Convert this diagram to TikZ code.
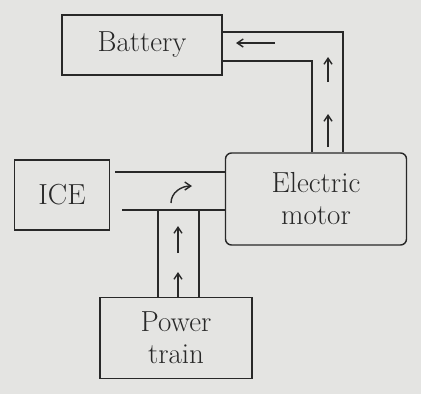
\documentclass[tikz,border=0pt]{standalone}
\usepackage{tikz}
\usetikzlibrary{arrows.meta,positioning}
\definecolor{paper}{RGB}{228,228,226}
\definecolor{ink}{RGB}{40,40,40}
\begin{document}
\begin{tikzpicture}[x=1pt,y=-1pt,>={Straight Barb[length=6pt,width=8pt]},line width=1.4pt,draw=ink,
    font=\fontsize{29}{32}\selectfont,every node/.style={align=center,text=ink},
    blockbox/.style={draw=ink,line width=1.4pt,inner sep=2pt}]
    \fill[paper] (0,0) rectangle (421,394);
    \useasboundingbox (0,0) rectangle (421,394);
    % blocks
    \node[blockbox,minimum width=160pt,minimum height=60pt] (battery) at (142,45) {Battery};
    \node[blockbox,minimum width=95pt,minimum height=70pt] (ice) at (62,195) {ICE};
    \node[blockbox,rounded corners=6pt,minimum width=181pt,minimum height=92pt] (motor) at (316,199) {Electric\\motor};
    \node[blockbox,minimum width=152pt,minimum height=81pt] (train) at (176,338) {Power\\train};
    % motor to battery
    \coordinate (outer) at (343,32);
    \coordinate (inner) at (312,61);
    \draw[ink] (battery.east |- outer) -- (outer) -- (outer |- motor.north);
    \draw[ink] (battery.east |- inner) -- (inner) -- (inner |- motor.north);
    \coordinate (b1) at (275,43);
    \coordinate (b2) at (236,43);
    \draw[ink,->] (b1) -- (b2);
    \coordinate (u1) at (328,82);
    \coordinate (u2) at (328,57);
    \coordinate (u3) at (328,147);
    \coordinate (u4) at (328,114);
    \draw[ink,->] (u1) -- (u2);
    \draw[ink,->] (u3) -- (u4);
    % ice to motor
    \coordinate (top) at (115,172);
    \coordinate (bot) at (122,210);
    \draw[ink] (top) -- (motor.west |- top);
    \draw[ink] (bot) -- (motor.west |- bot);
    \coordinate (h1) at (171,203);
    \coordinate (h2) at (192,186);
    \draw[ink,->] (h1) to[out=90,in=180] (h2);
    % power train to channel
    \coordinate (vl) at (158,210);
    \coordinate (vr) at (199,210);
    \draw[ink] (vl) -- (vl |- train.north);
    \draw[ink] (vr) -- (vr |- train.north);
    \coordinate (p1) at (178,253);
    \coordinate (p2) at (178,226);
    \coordinate (p3) at (178,297);
    \coordinate (p4) at (178,272);
    \draw[ink,->] (p1) -- (p2);
    \draw[ink,->] (p3) -- (p4);
\end{tikzpicture}
\end{document}
